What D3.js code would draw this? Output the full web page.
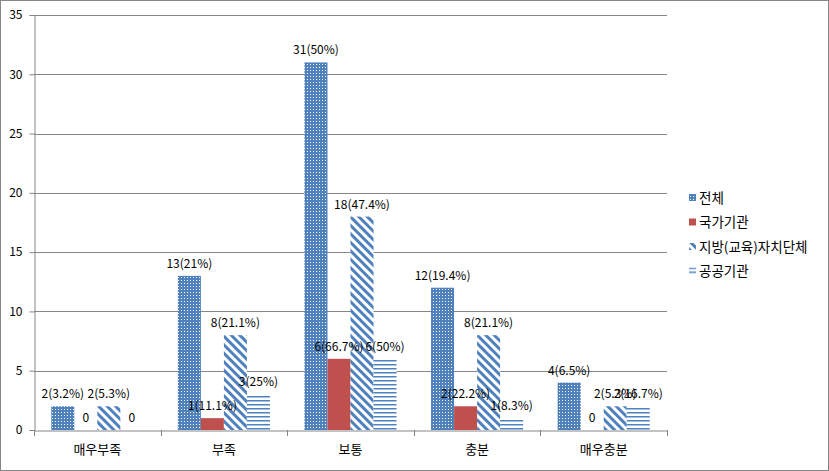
<!DOCTYPE html>
<html><head><meta charset="utf-8">
<script src="https://cdn.jsdelivr.net/npm/d3@7"></script>
<style>body{margin:0;background:#fff}svg{display:block}text{font-family:"Noto Sans CJK KR","DejaVu Sans",sans-serif}</style>
</head><body><svg id="c" width="829" height="471"></svg>
<script>
const categories = ["매우부족","부족","보통","충분","매우충분"];
const seriesNames = ["전체","국가기관","지방(교육)자치단체","공공기관"];
const values전체 = [2,13,31,12,4];
const values국가기관 = [0,1,6,2,0];
const values지방 = [2,8,18,8,2];
const values공공 = [0,3,6,1,2];
const labels전체 = ["2(3.2%)","13(21%)","31(50%)","12(19.4%)","4(6.5%)"];
const labels국가기관 = ["0","1(11.1%)","6(66.7%)","2(22.2%)","0"];
const labels지방 = ["2(5.3%)","8(21.1%)","18(47.4%)","8(21.1%)","2(5.3%)"];
const labels공공 = ["0","3(25%)","6(50%)","1(8.3%)","2(16.7%)"];
const yTicks = [0,5,10,15,20,25,30,35];

const series = [values전체, values국가기관, values지방, values공공];
const labels = [labels전체, labels국가기관, labels지방, labels공공];
const fills = ["url(#pDots)","#C0504D","url(#pDiag)","url(#pHoriz)"];

const svg = d3.select("#c");
const defs = svg.append("defs");
const blue = "#4F81BD";
let p = defs.append("pattern").attr("id","pDots").attr("patternUnits","userSpaceOnUse").attr("width",3).attr("height",3);
p.append("rect").attr("width",3).attr("height",3).attr("fill",blue);
p.append("rect").attr("x",1).attr("y",1).attr("width",1).attr("height",1).attr("fill","#fff");
p = defs.append("pattern").attr("id","pDiag").attr("patternUnits","userSpaceOnUse").attr("width",6).attr("height",6).attr("patternTransform","rotate(45)");
p.append("rect").attr("width",6).attr("height",6).attr("fill","#fff");
p.append("rect").attr("width",6).attr("height",3).attr("fill",blue);
p = defs.append("pattern").attr("id","pHoriz").attr("patternUnits","userSpaceOnUse").attr("width",4).attr("height",4);
p.append("rect").attr("width",4).attr("height",4).attr("fill","#fff");
p.append("rect").attr("y",0).attr("width",4).attr("height",1.5).attr("fill",blue);

svg.append("rect").attr("x",0.5).attr("y",0.5).attr("width",828).attr("height",470).attr("fill","#fff").attr("stroke","#868686");

const L=34, R=667, T=15, B=430;
const x = d3.scaleBand().domain(categories).range([L,R]).paddingInner(0).paddingOuter(0);
const y = d3.scaleLinear().domain([0,35]).range([B,T]);
const xs = d3.scaleBand().domain(d3.range(4)).range([0,x.bandwidth()]).paddingOuter(0.75).paddingInner(0);

const g = svg.append("g");
g.selectAll("line.grid").data(yTicks.filter(d=>d>0)).join("line")
  .attr("x1",L).attr("x2",R).attr("y1",d=>Math.round(y(d))+0.5).attr("y2",d=>Math.round(y(d))+0.5)
  .attr("stroke","#868686").attr("stroke-width",1);

const ya = g.append("g").attr("transform",`translate(${L+0.5},0)`)
  .call(d3.axisLeft(y).tickValues(yTicks).tickSize(5).tickPadding(7));
ya.select(".domain").attr("stroke","#868686");
ya.selectAll(".tick line").attr("stroke","#868686");
ya.selectAll(".tick text").attr("font-size",12).attr("fill","#000").attr("font-family","'DejaVu Sans',sans-serif");

series.forEach((vals,si)=>{
  g.selectAll(null).data(categories).join("rect")
    .attr("x",c=>x(c)+xs(si)).attr("width",xs.bandwidth())
    .attr("y",(c,i)=>y(vals[i])).attr("height",(c,i)=>B-y(vals[i]))
    .attr("fill",fills[si]);
});

const xa = g.append("g").attr("transform",`translate(0,${B+0.5})`)
  .call(d3.axisBottom(x).tickSize(0).tickPadding(14));
xa.select(".domain").attr("stroke","#868686");
xa.selectAll(".tick text").attr("font-size",13).attr("fill","#000");
g.selectAll("line.xt").data(d3.range(categories.length+1)).join("line")
  .attr("x1",i=>Math.round(L+i*x.bandwidth())+0.5).attr("x2",i=>Math.round(L+i*x.bandwidth())+0.5)
  .attr("y1",B).attr("y2",B+6).attr("stroke","#868686");

series.forEach((vals,si)=>{
  g.selectAll(null).data(categories).join("text")
    .attr("x",c=>x(c)+xs(si)+xs.bandwidth()/2)
    .attr("y",(c,i)=>y(vals[i])-8)
    .attr("text-anchor","middle").attr("font-size",12).attr("fill","#000")
    .attr("font-family","'DejaVu Sans',sans-serif")
    .text((c,i)=>labels[si][i]);
});

const lg = svg.append("g").attr("transform","translate(689,198)");
seriesNames.forEach((n,i)=>{
  const it = lg.append("g").attr("transform",`translate(0,${i*24.5})`);
  it.append("rect").attr("x",0).attr("y",-4).attr("width",7).attr("height",7).attr("fill",fills[i]);
  it.append("text").attr("x",10).attr("y",0).attr("dy","0.35em").attr("font-size",13.5).attr("fill","#000").text(n);
});
</script></body></html>
